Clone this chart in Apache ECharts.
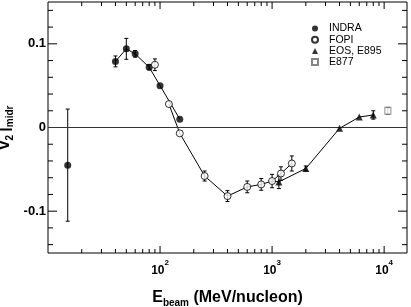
<!DOCTYPE html>
<html>
<head>
<meta charset="utf-8">
<script src="https://cdn.jsdelivr.net/npm/echarts@6/dist/echarts.min.js"></script>
<style>
html,body{margin:0;padding:0;background:#fff;}
#chart{width:411px;height:307px;}
</style>
</head>
<body>
<div id="chart"></div>
<script>
// ---- data (E_beam in MeV/nucleon, v2 at midrapidity, error) ----
const indraE   = [15, 40, 50, 60, 80, 100, 150];
const indraV   = [-0.045, 0.079, 0.094, 0.088, 0.072, 0.050, 0.010];
const indraErr = [0.067, 0.0065, 0.0125, 0.004, 0.003, 0, 0];

const fopiE    = [90, 120, 150, 250, 400, 600, 800, 1000, 1200, 1500];
const fopiV    = [0.075, 0.028, -0.007, -0.058, -0.082, -0.071, -0.068, -0.064, -0.055, -0.043];
const fopiErr  = [0.007, 0, 0, 0.006, 0.0065, 0.007, 0.007, 0.008, 0.008, 0.009];

const eosE     = [1150, 2000, 4000, 6000, 8000];
const eosV     = [-0.065, -0.049, -0.001, 0.0125, 0.015];
const eosErr   = [0.008, 0.003, 0, 0, 0.005];

const e877E    = [10800];
const e877V    = [0.020];
const e877Err  = [0.004];

// axis ticks
const xMajorTicks = [100, 1000, 10000];
const xMinorTicks = [20,30,40,50,60,70,80,90,200,300,400,500,600,700,800,900,2000,3000,4000,5000,6000,7000,8000,9000];
const yMajorTicks = [-0.1, 0, 0.1];
const yMinorTicks = [-0.14,-0.12,-0.08,-0.06,-0.04,-0.02,0.02,0.04,0.06,0.08,0.12,0.14];

// ---- build ----
const pts = (E, V) => E.map((e, i) => [e, V[i]]);
const errs = (E, V, R) => E.map((e, i) => [e, V[i], R[i]]);

const curveIndra = pts(indraE, indraV).slice(1);
const curveFopi = pts(fopiE, fopiV).slice(1);
const curveHigh = [pts(fopiE, fopiV)[7]].concat(pts(eosE, eosV));

const errData = [].concat(
  errs(indraE, indraV, indraErr),
  errs(fopiE, fopiV, fopiErr),
  errs(eosE, eosV, eosErr),
  errs(e877E, e877V, e877Err)
);

const FONT = 'Liberation Sans, Arial, Helvetica, sans-serif';

const lineStyle = {color: '#000', width: 1};
function curve(data) {
  return {type: 'line', data: data, symbol: 'none', lineStyle: lineStyle, z: 2, silent: true, animation: false};
}

const chart = echarts.init(document.getElementById('chart'), null, {renderer: 'canvas'});
chart.setOption({
  animation: false,
  backgroundColor: '#fff',
  grid: {left: 48, right: 4, top: 2, bottom: 54, show: true, borderColor: '#000', borderWidth: 1,
    backgroundColor: 'transparent', containLabel: false, outerBoundsMode: 'none'},
  legend: {
    data: ['INDRA', 'FOPI', 'EOS, E895', 'E877'],
    orient: 'vertical', left: 306, top: 18, itemWidth: 6, itemHeight: 6, itemGap: 0.2,
    textStyle: {fontFamily: FONT, fontSize: 10.5, color: '#000', lineHeight: 11, padding: [0, 0, 0, 6]},
    selectedMode: false
  },
  xAxis: {
    type: 'log', logBase: 10, min: 10, max: 16000,
    axisLine: {show: false}, axisTick: {show: false}, splitLine: {show: false},
    axisLabel: {
      margin: 6,
      formatter: function (v) {
        const l = Math.log10(v);
        const p = Math.round(l);
        if (p < 2 || Math.abs(l - p) > 1e-6) return '';
        return '{b|10}{s|' + p + '}';
      },
      rich: {
        b: {fontFamily: FONT, fontSize: 12, fontWeight: 'bold', color: '#000', lineHeight: 24},
        s: {fontFamily: FONT, fontSize: 8, fontWeight: 'bold', color: '#000', lineHeight: 10, verticalAlign: 'top'}
      }
    },
    name: '{e|E}{sb|beam}{e| (MeV/nucleon)}',
    nameLocation: 'middle', nameGap: 35,
    nameTextStyle: {
      rich: {
        e: {fontFamily: FONT, fontSize: 16, fontWeight: 'bold', color: '#000', lineHeight: 20},
        sb: {fontFamily: FONT, fontSize: 10, fontWeight: 'bold', color: '#000', lineHeight: 10, verticalAlign: 'bottom'}
      }
    }
  },
  yAxis: {
    type: 'value', min: -0.15, max: 0.15, interval: 0.05,
    axisLine: {show: false}, axisTick: {show: false}, splitLine: {show: false},
    axisLabel: {
      margin: 2,
      fontFamily: FONT, fontSize: 13, fontWeight: 'bold', color: '#000',
      formatter: function (v) {
        const r = Math.round(v * 10) / 10;
        if (Math.abs(v - r) > 1e-6) return '';
        return r === 0 ? '0' : String(r);
      }
    },
    name: '{v|v}{s|2} {bar||}{s|midr}',
    nameLocation: 'middle', nameGap: 33, nameMoveOverlap: false,
    nameTextStyle: {
      rich: {
        v: {fontFamily: FONT, fontSize: 16, fontWeight: 'bold', color: '#000', lineHeight: 20},
        s: {fontFamily: FONT, fontSize: 10, fontWeight: 'bold', color: '#000', lineHeight: 10, verticalAlign: 'bottom'},
        bar: {fontFamily: FONT, fontSize: 16, fontWeight: 'bold', color: '#000', lineHeight: 20}
      }
    }
  },
  series: [
    // axis ticks (mirrored on all four sides)
    {
      type: 'custom', silent: true, z: 1,
      data: xMajorTicks.map(v => [v, 0, 7]).concat(xMinorTicks.map(v => [v, 0, 4])),
      renderItem: function (params, api) {
        const cs = params.coordSys;
        const x = api.coord([api.value(0), 0])[0];
        const len = api.value(2);
        const b = cs.y + cs.height;
        return {type: 'group', children: [
          {type: 'line', shape: {x1: x, y1: b, x2: x, y2: b - len}, style: {stroke: '#000', lineWidth: 1}},
          {type: 'line', shape: {x1: x, y1: cs.y, x2: x, y2: cs.y + len}, style: {stroke: '#000', lineWidth: 1}}
        ]};
      }
    },
    {
      type: 'custom', silent: true, z: 1,
      data: yMajorTicks.map(v => [10, v, 9]).concat(yMinorTicks.map(v => [10, v, 5])),
      renderItem: function (params, api) {
        const cs = params.coordSys;
        const y = api.coord([10, api.value(1)])[1];
        const len = api.value(2);
        const r = cs.x + cs.width;
        return {type: 'group', children: [
          {type: 'line', shape: {x1: cs.x, y1: y, x2: cs.x + len, y2: y}, style: {stroke: '#000', lineWidth: 1}},
          {type: 'line', shape: {x1: r, y1: y, x2: r - len, y2: y}, style: {stroke: '#000', lineWidth: 1}}
        ]};
      }
    },
    // connecting curves
    Object.assign(curve(curveIndra), {
      markLine: {silent: true, symbol: 'none', label: {show: false},
        lineStyle: {color: '#333', width: 1, type: 'solid'}, data: [{yAxis: 0}]}
    }),
    curve(curveFopi),
    curve(curveHigh),
    // error bars
    {
      type: 'custom', silent: true, z: 3,
      data: errData,
      renderItem: function (params, api) {
        const e = api.value(2);
        if (!(e > 0)) return null;
        const E = api.value(0), V = api.value(1);
        const t = api.coord([E, V + e]);
        const b = api.coord([E, V - e]);
        const st = {stroke: '#000', lineWidth: 1};
        return {type: 'group', children: [
          {type: 'line', shape: {x1: t[0], y1: t[1], x2: b[0], y2: b[1]}, style: st},
          {type: 'line', shape: {x1: t[0] - 2, y1: t[1], x2: t[0] + 2, y2: t[1]}, style: st},
          {type: 'line', shape: {x1: b[0] - 2, y1: b[1], x2: b[0] + 2, y2: b[1]}, style: st}
        ]};
      }
    },
    // points
    {name: 'INDRA', type: 'scatter', data: pts(indraE, indraV), symbol: 'circle', symbolSize: 7,
      itemStyle: {color: '#000'}, z: 5, silent: true},
    {name: 'FOPI', type: 'scatter', data: pts(fopiE, fopiV), symbol: 'circle', symbolSize: 7,
      itemStyle: {color: '#fff', borderColor: '#000', borderWidth: 1}, z: 5, silent: true},
    {name: 'EOS, E895', type: 'scatter', data: pts(eosE, eosV), symbol: 'triangle', symbolSize: 7,
      itemStyle: {color: '#000'}, z: 5, silent: true},
    {name: 'E877', type: 'scatter', data: pts(e877E, e877V), symbol: 'rect', symbolSize: [6, 7],
      itemStyle: {color: '#fff', borderColor: '#666', borderWidth: 1}, z: 5, silent: true}
  ]
});
</script>
</body>
</html>
